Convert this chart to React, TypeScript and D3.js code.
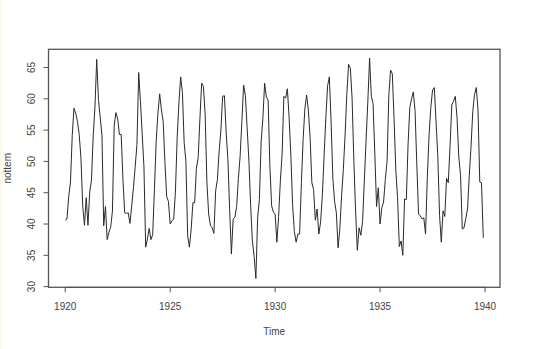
import React from "react";
import * as d3 from "d3";

const startYear = 1920;
const nottem: number[] = [
  40.6, 40.8, 44.4, 46.7, 54.1, 58.5, 57.7, 56.4, 54.3, 50.5, 42.9, 39.8,
  44.2, 39.8, 45.1, 47.0, 54.1, 58.7, 66.3, 59.9, 57.0, 54.2, 39.7, 42.8,
  37.5, 38.7, 39.5, 42.1, 55.7, 57.8, 56.8, 54.3, 54.3, 47.1, 41.8, 41.7,
  41.8, 40.1, 42.9, 45.8, 49.2, 52.7, 64.2, 59.6, 54.4, 49.2, 36.3, 37.6,
  39.3, 37.5, 38.3, 45.5, 53.2, 57.7, 60.8, 58.2, 56.4, 49.8, 44.4, 43.6,
  40.0, 40.5, 40.8, 45.1, 53.8, 59.4, 63.5, 61.0, 53.0, 50.0, 38.1, 36.3,
  39.2, 43.4, 43.4, 48.9, 50.6, 56.8, 62.5, 62.0, 57.5, 46.7, 41.6, 39.8,
  39.4, 38.5, 45.3, 47.1, 51.7, 55.0, 60.4, 60.5, 54.7, 50.3, 42.3, 35.2,
  40.8, 41.1, 42.8, 47.3, 50.9, 56.4, 62.2, 60.5, 55.4, 50.2, 43.0, 37.3,
  34.8, 31.3, 41.0, 43.9, 53.1, 56.9, 62.5, 60.3, 59.8, 49.2, 42.9, 41.9,
  41.6, 37.1, 41.2, 46.9, 51.2, 60.4, 60.1, 61.6, 57.0, 50.9, 43.0, 38.8,
  37.1, 38.4, 38.4, 46.5, 53.5, 58.4, 60.6, 58.2, 53.8, 46.6, 45.5, 40.6,
  42.4, 38.4, 40.3, 44.6, 50.9, 57.0, 62.1, 63.5, 56.3, 47.3, 43.6, 41.8,
  36.2, 39.3, 44.5, 48.7, 54.2, 60.8, 65.5, 64.9, 60.1, 50.2, 42.1, 35.8,
  39.4, 38.2, 40.4, 46.9, 53.4, 59.6, 66.5, 60.4, 59.2, 51.2, 42.8, 45.8,
  40.0, 42.6, 43.5, 47.1, 50.0, 60.5, 64.6, 64.0, 56.8, 48.6, 44.2, 36.4,
  37.3, 35.0, 44.0, 43.9, 52.7, 58.6, 60.0, 61.1, 58.1, 49.6, 41.6, 41.3,
  40.8, 41.0, 38.4, 47.4, 54.1, 58.6, 61.4, 61.8, 56.3, 50.9, 41.4, 37.1,
  42.1, 41.2, 47.3, 46.6, 52.4, 59.0, 59.6, 60.4, 57.0, 50.7, 47.8, 39.2,
  39.4, 40.9, 42.4, 47.8, 52.4, 58.0, 60.7, 61.8, 58.2, 46.7, 46.6, 37.8,
];
const xTicks = [1920, 1925, 1930, 1935, 1940];
const yTicks = [30, 35, 40, 45, 50, 55, 60, 65];

export default function App() {
  const W = 548, H = 349;
  const left = 48.5, right = 500, top = 49.3, bottom = 287.3;
  const times = nottem.map((_, i) => startYear + i / 12);
  const [tMin, tMax] = d3.extent(times) as [number, number];
  const [vMin, vMax] = d3.extent(nottem) as [number, number];
  const tPad = (tMax - tMin) * 0.04;
  const vPad = (vMax - vMin) * 0.04;
  const x = d3.scaleLinear().domain([tMin - tPad, tMax + tPad]).range([left, right]);
  const y = d3.scaleLinear().domain([vMin - vPad, vMax + vPad]).range([bottom, top]);
  const line = d3
    .line<number>()
    .x((_, i) => x(times[i]))
    .y((d) => y(d));
  const font = "'Liberation Sans', Arial, sans-serif";
  const textColor = "#444";
  const axisColor = "#555";
  return (
    <svg
      width={W}
      height={H}
      style={{ position: "absolute", left: 0, top: 0, background: "#fff" }}
      fontFamily={font}
    >
      <rect x={0} y={0} width={W} height={H} fill="#fff" />
      <rect x={0} y={0} width={3} height={H} fill="#fbfbf2" />
      <path d={line(nottem) || ""} fill="none" stroke="#2a2a2a" strokeWidth={1} strokeLinejoin="round" />
      <rect x={left} y={top} width={right - left} height={bottom - top} fill="none" stroke={axisColor} strokeWidth={1.3} />
      {xTicks.map((t) => (
        <g key={t}>
          <line x1={x(t)} x2={x(t)} y1={bottom} y2={bottom + 5} stroke={axisColor} strokeWidth={1} />
          <text x={x(t)} y={306} fontSize={10} fill={textColor} textAnchor="middle" dominantBaseline="central">
            {t}
          </text>
        </g>
      ))}
      <line x1={x(1920)} x2={x(1940)} y1={bottom} y2={bottom} stroke={axisColor} strokeWidth={1} />
      {yTicks.map((v) => (
        <g key={v}>
          <line x1={left} x2={left - 5} y1={y(v)} y2={y(v)} stroke={axisColor} strokeWidth={1} />
          <text
            transform={`translate(31.5,${y(v)}) rotate(-90)`}
            fontSize={10}
            fill={textColor}
            textAnchor="middle"
            dominantBaseline="central"
          >
            {v}
          </text>
        </g>
      ))}
      <text x={(left + right) / 2} y={331.5} fontSize={10} fill={textColor} textAnchor="middle" dominantBaseline="central">
        Time
      </text>
      <text
        transform={`translate(7.5,${(top + bottom) / 2}) rotate(-90)`}
        fontSize={10}
        fill={textColor}
        textAnchor="middle"
        dominantBaseline="central"
      >
        nottem
      </text>
    </svg>
  );
}
